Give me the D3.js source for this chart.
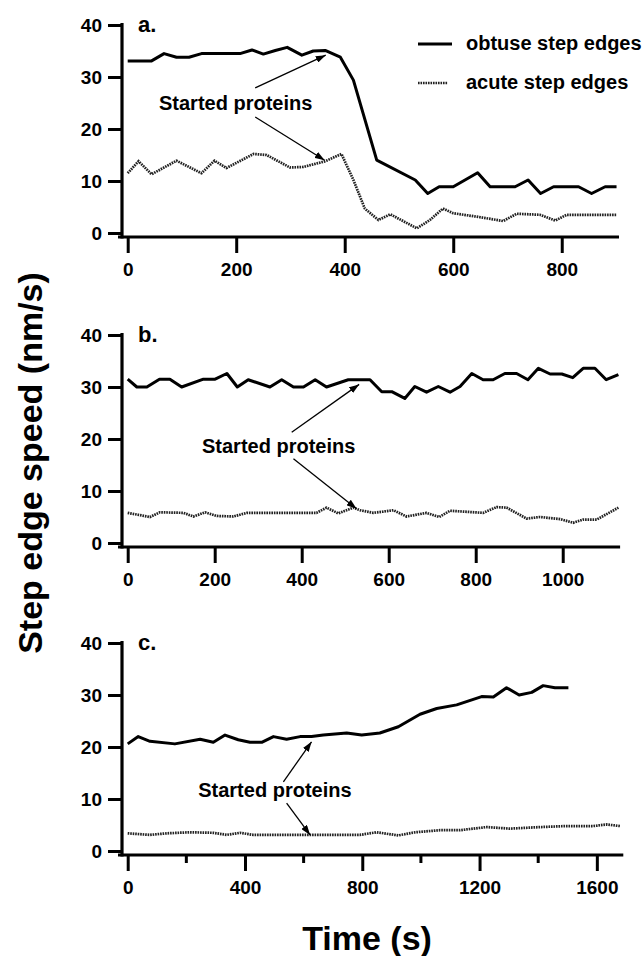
<!DOCTYPE html>
<html>
<head>
<meta charset="utf-8">
<script src="https://cdn.jsdelivr.net/npm/d3@7"></script>
<style>
  body { margin: 0; background: #fff; }
  svg { display: block; }
  text { font-family: "Liberation Sans", Arial, Helvetica, sans-serif; font-weight: bold; fill: #000; }
</style>
</head>
<body>
<svg width="642" height="956"></svg>
<script>
// panel a
const aObtuseT = [0, 44, 67, 90, 113, 136, 207, 229, 250, 272, 294, 321, 342, 364, 392, 416, 459, 530, 553, 574, 600, 645, 668, 714, 738, 761, 785, 831, 855, 880, 901];
const aObtuseV = [33.1, 33.1, 34.5, 33.8, 33.8, 34.5, 34.5, 35.2, 34.4, 35.1, 35.7, 34.2, 35.0, 35.1, 33.8, 29.4, 14.0, 10.2, 7.6, 8.9, 8.9, 11.6, 8.9, 8.9, 10.2, 7.6, 8.9, 8.9, 7.6, 8.9, 8.9];
const aAcuteT = [0, 20, 44, 90, 136, 160, 182, 232, 256, 299, 324, 364, 394, 416, 437, 462, 484, 533, 557, 581, 600, 646, 692, 717, 760, 788, 809, 901];
const aAcuteV = [11.5, 13.8, 11.3, 13.9, 11.5, 13.9, 12.5, 15.2, 15.0, 12.6, 12.7, 13.8, 15.2, 10.2, 4.7, 2.5, 3.6, 0.9, 2.5, 4.7, 3.8, 3.1, 2.3, 3.7, 3.5, 2.4, 3.5, 3.5];

// panel b
const bObtuseT = [0, 21, 44, 73, 97, 124, 174, 201, 228, 252, 277, 327, 354, 381, 404, 431, 457, 507, 557, 584, 607, 637, 660, 687, 714, 741, 764, 791, 817, 840, 867, 894, 920, 944, 971, 998, 1023, 1047, 1074, 1100, 1128];
const bObtuseV = [31.5, 30.0, 30.0, 31.5, 31.5, 30.0, 31.5, 31.5, 32.6, 30.0, 31.4, 30.0, 31.4, 30.0, 30.0, 31.4, 30.0, 31.4, 31.4, 29.1, 29.1, 27.8, 30.1, 29.0, 30.1, 29.0, 30.1, 32.6, 31.4, 31.4, 32.6, 32.6, 31.4, 33.6, 32.5, 32.5, 31.8, 33.6, 33.6, 31.4, 32.4];
const bAcuteT = [0, 51, 74, 128, 151, 178, 205, 243, 274, 434, 457, 484, 519, 534, 565, 611, 641, 687, 716, 741, 817, 848, 871, 917, 948, 994, 1024, 1047, 1078, 1128];
const bAcuteV = [5.8, 5.0, 5.9, 5.8, 5.1, 5.9, 5.2, 5.1, 5.8, 5.8, 6.8, 5.7, 6.8, 6.3, 5.8, 6.3, 5.1, 5.8, 5.0, 6.2, 5.8, 6.9, 6.8, 4.7, 5.0, 4.6, 3.9, 4.5, 4.5, 6.8];

// panel c
const cObtuseT = [0, 36, 76, 161, 247, 292, 332, 377, 417, 457, 497, 542, 588, 627, 667, 747, 798, 860, 923, 997, 1054, 1122, 1207, 1247, 1292, 1335, 1378, 1417, 1457, 1503];
const cObtuseV = [20.6, 22.0, 21.1, 20.6, 21.5, 20.9, 22.3, 21.4, 20.9, 20.9, 22.0, 21.5, 22.0, 22.0, 22.3, 22.7, 22.3, 22.7, 23.9, 26.3, 27.4, 28.1, 29.7, 29.6, 31.4, 30.0, 30.5, 31.8, 31.4, 31.4];
const cAcuteT = [0, 76, 133, 212, 292, 338, 383, 428, 622, 792, 849, 923, 980, 1065, 1133, 1224, 1304, 1406, 1497, 1588, 1633, 1679];
const cAcuteV = [3.4, 3.1, 3.4, 3.6, 3.5, 3.1, 3.5, 3.1, 3.1, 3.1, 3.6, 3.0, 3.6, 4.0, 4.0, 4.6, 4.3, 4.6, 4.8, 4.8, 5.1, 4.8];

const yTicks = [0, 10, 20, 30, 40];
const aTicks = [0, 200, 400, 600, 800];
const bTicks = [0, 200, 400, 600, 800, 1000];
const cTicks = [0, 400, 800, 1200, 1600];
const cMinorTicks = [200, 600, 1000, 1400];

const seriesNames = ["obtuse step edges", "acute step edges"];
const noteText = "Started proteins";

const AXIS_X = 122;
const X0 = 127.7;
const PLOT_H = 208;

const panels = [
  { label: "a.", y0: 233, xMax: 900, xEnd: 616, ticks: aTicks, minor: [],
    obtuse: d3.zip(aObtuseT, aObtuseV), acute: d3.zip(aAcuteT, aAcuteV),
    note: [199, 23.7], arrows: [[[235, 27.9], [365, 34.2]], [[235, 22.3], [363, 14.0]]] },
  { label: "b.", y0: 543, xMax: 1125, xEnd: 617.1, ticks: bTicks, minor: [],
    obtuse: d3.zip(bObtuseT, bObtuseV), acute: d3.zip(bAcuteT, bAcuteV),
    note: [347, 17.4], arrows: [[[377, 21.3], [532, 30.5]], [[381, 16.2], [526, 6.6]]] },
  { label: "c.", y0: 851, xMax: 1680, xEnd: 620.3, ticks: cTicks, minor: cMinorTicks,
    obtuse: d3.zip(cObtuseT, cObtuseV), acute: d3.zip(cAcuteT, cAcuteV),
    note: [502, 10.4], arrows: [[[531, 13.3], [627, 21.0]], [[542, 9.2], [622, 3.1]]] }
];

const svg = d3.select("svg");

svg.append("defs").append("marker")
  .attr("id", "head")
  .attr("markerUnits", "userSpaceOnUse")
  .attr("markerWidth", 10).attr("markerHeight", 7)
  .attr("refX", 10).attr("refY", 3.5)
  .attr("orient", "auto")
  .append("path").attr("d", "M0,0L10,3.5L0,7Z").attr("fill", "#000");

const styleAxis = (g) => {
  g.select(".domain").remove();
  g.attr("font-family", null).attr("font-size", null);
  g.selectAll("line").attr("stroke", "#000").attr("stroke-width", 3);
  g.selectAll("text").style("font-size", "19px").attr("fill", "#000");
};

panels.forEach((p) => {
  const x = d3.scaleLinear().domain([0, p.xMax]).range([X0, p.xEnd]);
  const y = d3.scaleLinear().domain([0, 40]).range([p.y0, p.y0 - PLOT_H]);
  const g = svg.append("g");
  const axisY = p.y0 + 4;

  // y axis
  g.append("g")
    .attr("transform", `translate(${AXIS_X},0)`)
    .call(d3.axisLeft(y).tickValues(yTicks).tickSize(14).tickPadding(6).tickSizeOuter(0))
    .call(styleAxis);

  // x axis
  g.append("g")
    .attr("transform", `translate(0,${axisY})`)
    .call(d3.axisBottom(x).tickValues(p.ticks).tickFormat(d3.format("d"))
      .tickSize(16).tickPadding(10).tickSizeOuter(0))
    .call(styleAxis);

  g.selectAll(".minor")
    .data(p.minor)
    .enter()
    .append("line")
    .attr("x1", (d) => x(d)).attr("x2", (d) => x(d))
    .attr("y1", axisY).attr("y2", axisY + 8)
    .attr("stroke", "#000").attr("stroke-width", 3);

  // axis lines
  g.append("line")
    .attr("x1", AXIS_X).attr("x2", AXIS_X)
    .attr("y1", y(40) - 2).attr("y2", axisY + 1.5)
    .attr("stroke", "#000").attr("stroke-width", 3.2);
  g.append("line")
    .attr("x1", AXIS_X - 4).attr("x2", x(p.xMax) + 3)
    .attr("y1", axisY).attr("y2", axisY)
    .attr("stroke", "#000").attr("stroke-width", 3.2);

  const line = d3.line().x((d) => x(d[0])).y((d) => y(d[1]));

  g.append("path")
    .attr("d", line(p.acute))
    .attr("fill", "none")
    .attr("stroke", "#222")
    .attr("stroke-width", 2.7)
    .attr("stroke-dasharray", "1.6 0.9");

  g.append("path")
    .attr("d", line(p.obtuse))
    .attr("fill", "none")
    .attr("stroke", "#000")
    .attr("stroke-width", 3)
    .attr("stroke-linejoin", "round");

  // annotation
  p.arrows.forEach((a) => {
    g.append("line")
      .attr("x1", x(a[0][0])).attr("y1", y(a[0][1]))
      .attr("x2", x(a[1][0])).attr("y2", y(a[1][1]))
      .attr("stroke", "#000").attr("stroke-width", 1.3)
      .attr("marker-end", "url(#head)");
  });
  g.append("text")
    .attr("x", x(p.note[0])).attr("y", y(p.note[1]))
    .attr("text-anchor", "middle")
    .style("font-size", "20px")
    .text(noteText);

  g.append("text")
    .attr("x", 138).attr("y", y(40) + 7)
    .style("font-size", "22px")
    .text(p.label);
});

// legend
const legend = svg.append("g");
legend.append("line")
  .attr("x1", 418).attr("x2", 452).attr("y1", 44).attr("y2", 44)
  .attr("stroke", "#000").attr("stroke-width", 3.2);
legend.append("line")
  .attr("x1", 418).attr("x2", 448).attr("y1", 83).attr("y2", 83)
  .attr("stroke", "#222").attr("stroke-width", 2.7).attr("stroke-dasharray", "1.6 0.9");
legend.selectAll("text.leg")
  .data(seriesNames)
  .enter()
  .append("text")
  .attr("x", 466)
  .attr("y", (d, i) => 50 + i * 39)
  .style("font-size", "20px")
  .text((d) => d);

// axis titles
svg.append("text")
  .attr("x", 367).attr("y", 950)
  .attr("text-anchor", "middle")
  .style("font-size", "34px")
  .text("Time (s)");
svg.append("text")
  .attr("transform", "translate(42,463) rotate(-90)")
  .attr("text-anchor", "middle")
  .style("font-size", "34px")
  .text("Step edge speed (nm/s)");
</script>
</body>
</html>
